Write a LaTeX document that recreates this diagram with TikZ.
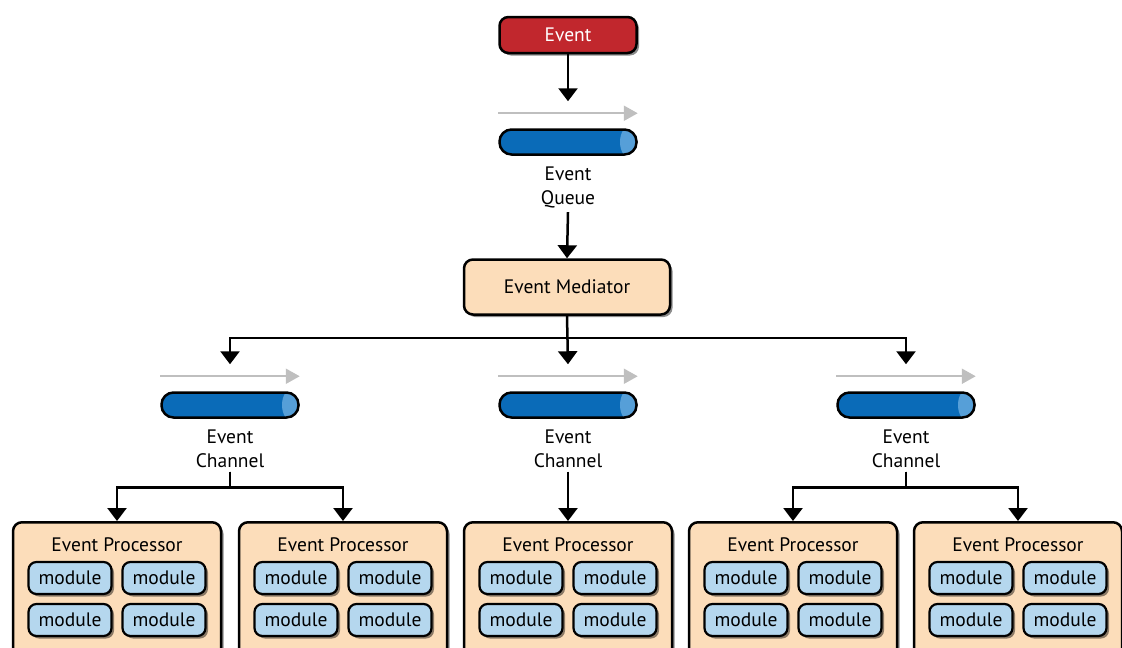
\documentclass[tikz,border=0pt]{standalone}
\usepackage{fontspec}
\setmainfont{PT Sans}
\usetikzlibrary{arrows.meta,shapes.geometric,shadows,positioning}
\definecolor{evred}{HTML}{C1272D}
\definecolor{peach}{HTML}{FCDDBA}
\definecolor{pipeblue}{HTML}{0A6BB8}
\definecolor{pipeend}{HTML}{569FD8}
\definecolor{modblue}{HTML}{B5D7EE}
\begin{document}
\begin{tikzpicture}[x=1pt,y=-1pt]
\tikzstyle{every node}+=[font=\fontsize{19.5}{24}\selectfont]
\tikzstyle{shade}=[drop shadow={shadow xshift=2.5pt,shadow yshift=-2.5pt,opacity=0.45,fill=black}]
\tikzstyle{box}=[draw,line width=2.5pt,rounded corners=9pt,fill=peach,shade]
\tikzstyle{module}=[draw,line width=2.2pt,rounded corners=8pt,fill=modblue,shade,minimum width=83pt,minimum height=32pt,inner sep=0pt]
\tikzstyle{pipe}=[draw,line width=2.5pt,rounded corners=12pt,fill=pipeblue,minimum width=137pt,minimum height=25pt,inner sep=0pt,
  path picture={\fill[pipeend] ([xshift=-8pt]path picture bounding box.east) ellipse (8.5pt and 15pt);}]
\tikzstyle{arr}=[line width=2.5pt,-{Triangle[length=13pt,width=19pt]}]
\tikzstyle{flow}=[line width=2.2pt,black!25,-{Triangle[length=14pt,width=15pt]}]
\useasboundingbox (0,0) rectangle (1122,648);
\clip (0,0) rectangle (1122,648);

% incoming event and queue
\node[box,fill=evred,text=white,minimum width=137pt,minimum height=36pt] (event) at (568,35) {Event};
\node[pipe] (queue) at (568,142) {};
\draw[flow] ([yshift=15pt]queue.north west) -- ([yshift=15pt]queue.north east);
\node[below=8pt of queue,align=center] (queuetxt) {Event\\Queue};
\draw[arr] (event.south) -- ([yshift=27pt]queue.north);

% mediator
\node[box,minimum width=206pt,minimum height=55pt] (mediator) at (567,287) {Event Mediator};
\draw[arr] (queuetxt.south) -- (mediator.north);

% channels
\node[pipe] (chan1) at (230,405) {};
\node[pipe] (chan2) at (568,405) {};
\node[pipe] (chan3) at (906,405) {};
\foreach \c in {chan1,chan2,chan3} {
  \draw[flow] ([yshift=15pt]\c.north west) -- ([yshift=15pt]\c.north east);
  \node[below=8pt of \c,align=center] (\c txt) {Event\\Channel};
}
\draw[arr] (mediator.south) -- ++(0,22) -| ([yshift=27pt]chan1.north);
\draw[arr] (mediator.south) -- ++(0,22) -| ([yshift=27pt]chan3.north);
\draw[arr] (mediator.south) -- ([yshift=27pt]chan2.north);

% processors
\foreach \i/\cx in {1/117,2/343,3/568,4/793,5/1018} {
  \node[box,anchor=north,minimum width=208pt,minimum height=150pt] (proc\i) at (\cx,521) {};
  \node (proc\i title) at (\cx,545) {Event Processor};
  \node[module] (proc\i a) at (\cx-47,578) {module};
  \node[module] (proc\i b) at (\cx+47,578) {module};
  \node[module] (proc\i c) at (\cx-47,620) {module};
  \node[module] (proc\i d) at (\cx+47,620) {module};
}
\draw[arr] (chan1txt.south) -- ++(0,16) -| (proc1.north);
\draw[arr] (chan1txt.south) -- ++(0,16) -| (proc2.north);
\draw[arr] (chan2txt.south) -- (proc3.north);
\draw[arr] (chan3txt.south) -- ++(0,16) -| (proc4.north);
\draw[arr] (chan3txt.south) -- ++(0,16) -| (proc5.north);
\end{tikzpicture}
\end{document}
